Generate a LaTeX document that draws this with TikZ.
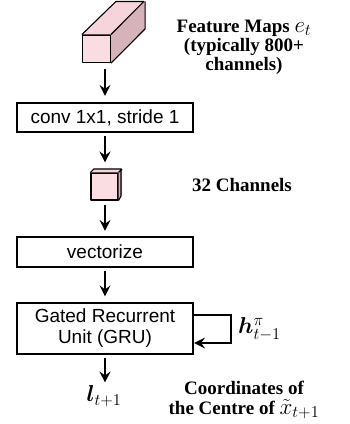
\RequirePackage{fix-cm}
\documentclass[tikz,border=0pt]{standalone}
\usepackage{fontspec}
\usepackage{bm}
\setmainfont{Liberation Serif}
\setsansfont{Liberation Sans}
\DeclareMathSizes{23}{23}{16.5}{12}
\usetikzlibrary{arrows.meta,calc}
\definecolor{frontpink}{RGB}{250,221,227}
\definecolor{toppink}{RGB}{246,212,220}
\definecolor{sidepink}{RGB}{214,178,186}
\newcommand{\mathbig}[1]{{\fontsize{23}{19}\selectfont$#1$}}
\tikzset{
  opbox/.style={draw, line width=2.2pt, minimum width=176pt, inner sep=0pt, align=center,
    font=\sffamily\fontsize{19}{22}\selectfont},
  face/.style={draw, line width=1.1pt, line join=round},
  arr/.style={line width=1.8pt, -{Stealth[length=11pt,width=11pt,inset=4pt]}},
  lab/.style={align=center, font=\bfseries\fontsize{19}{19}\selectfont, inner sep=0pt},
  mlab/.style={inner sep=0pt, font=\fontsize{23}{23}\selectfont},
}
\begin{document}
\begin{tikzpicture}[x=1pt,y=-1pt]
\useasboundingbox (0,0) rectangle (349,424);
% big cuboid
\node[face, fill=frontpink, minimum width=28pt, minimum height=27.5pt, inner sep=0pt] (cubeA) at (96.5,48.75) {};
\fill[toppink] (cubeA.north west) -- ++(34,-33) -- ++(28,0) -- (cubeA.north east) -- cycle;
\fill[sidepink] (cubeA.north east) -- ++(34,-33) -- ++(0,27.5) -- (cubeA.south east) -- cycle;
\draw[face] (cubeA.north west) -- ++(34,-33) -- ++(28,0) -- (cubeA.north east);
\draw[face] ($(cubeA.north east)+(34,-33)$) -- ++(0,27.5) -- (cubeA.south east);
% small cube
\node[face, fill=frontpink, minimum width=27pt, minimum height=27pt, inner sep=0pt] (cubeB) at (104.5,186.5) {};
\fill[toppink] (cubeB.north west) -- ++(3.5,-3.5) -- ++(27,0) -- (cubeB.north east) -- cycle;
\fill[sidepink] (cubeB.north east) -- ++(3.5,-3.5) -- ++(0,27) -- (cubeB.south east) -- cycle;
\draw[face] (cubeB.north west) -- ++(3.5,-3.5) -- ++(27,0) -- ++(0,27) -- (cubeB.south east);
\draw[face] (cubeB.north east) -- ++(3.5,-3.5);
% boxes
\node[opbox, minimum height=29pt] (conv) at (105,117.5) {conv 1x1, stride 1};
\node[opbox, minimum height=30pt] (vec) at (105,252) {vectorize};
\node[opbox, minimum height=51pt] (gru) at (105,328.5) {Gated Recurrent\\[-1pt]Unit (GRU)};
% output
\node[mlab] (lout) at (104,396) {$\bm{l}_{t+1}$};
% arrows
\draw[arr, shorten <=5.5pt, shorten >=6pt] (conv.north |- cubeA.south) -- (conv.north);
\draw[arr, shorten <=3pt, shorten >=10pt] (conv.south) -- (conv.south |- cubeB.north);
\draw[arr, shorten <=4pt, shorten >=5pt] (vec.north |- cubeB.south) -- (vec.north);
\draw[arr, shorten <=3pt, shorten >=5.5pt] (vec.south) -- (gru.north);
\draw[arr, shorten <=3pt, shorten >=3pt] (gru.south) -- (gru.south |- lout.north);
% loop
\coordinate (lt) at (231,315);
\coordinate (lb) at (231,343);
\draw[arr] (gru.east |- lt) -- (lt) -- (lb) -- (gru.east |- lb);
% labels
\node[lab] (fm) at (244,47) {Feature Maps \mathbig{e_t}\\(typically 800+\\channels)};
\node[lab] (ch) at (242,185) {32 Channels};
\node[mlab, anchor=west] (hlab) at (238,329) {$\bm{h}^{\pi}_{t-1}$};
\node[lab] (coord) at (244,400) {Coordinates of\\[1pt]the Centre of \mathbig{\tilde{x}_{t+1}}};
\end{tikzpicture}
\end{document}
